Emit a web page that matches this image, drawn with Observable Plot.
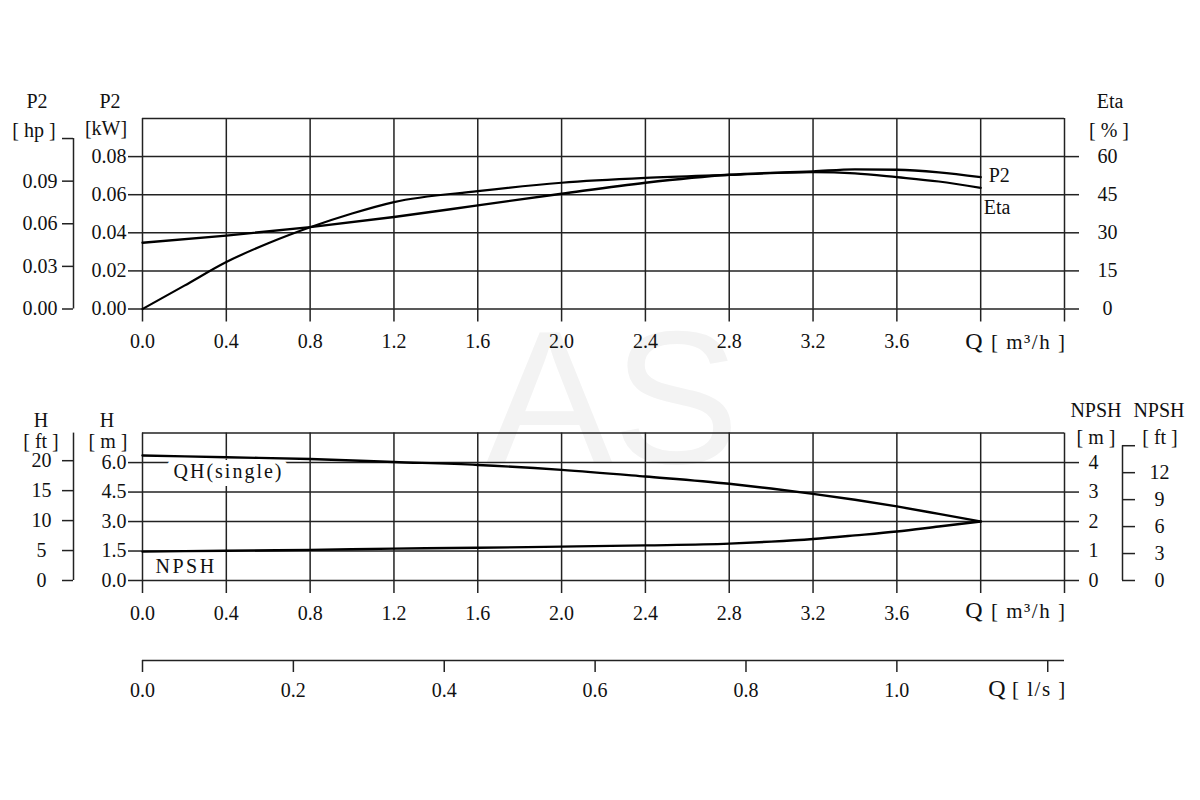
<!DOCTYPE html>
<html>
<head>
<meta charset="utf-8">
<script src="https://cdn.jsdelivr.net/npm/d3@7"></script>
<script src="https://cdn.jsdelivr.net/npm/@observablehq/plot@0.6"></script>
<style>
  html, body { margin: 0; padding: 0; background: #fff; overflow: hidden; }
  #chart { position: relative; width: 1200px; height: 800px; background: #fff; overflow: hidden;
           font-family: "Liberation Serif", "Times New Roman", serif; color: #111; }
  #chart svg { position: absolute; left: 0; top: 0; }
  .lbl { position: absolute; white-space: nowrap; line-height: 1; font-size: 20px; transform: translate(-50%, -50%); }
  .lbl.start { transform: translate(0, -50%); letter-spacing: 1.5px; }
  .wm { position: absolute; left: 486px; top: 302px; font-family: "Liberation Sans", Arial, sans-serif;
        font-size: 190px; line-height: 1; color: #f3f3f3; white-space: nowrap; }
</style>
</head>
<body>
<div id="chart"><div class="wm">AS</div></div>
<script>
// ---------- data ----------
// Flow Q [m3/h]
const qTicks  = [0, 0.4, 0.8, 1.2, 1.6, 2.0, 2.4, 2.8, 3.2, 3.6, 4.0, 4.4];
const qLabels = ["0.0","0.4","0.8","1.2","1.6","2.0","2.4","2.8","3.2","3.6","",""];

// P2 power [kW]
const qP2  = [0, 0.4, 0.8, 1.2, 1.6, 2.0, 2.4, 2.8, 3.2, 3.4, 3.6, 3.8, 4.0];
const p2kW = [0.0348, 0.0385, 0.0430, 0.0483, 0.0544, 0.0605, 0.0663, 0.0705, 0.0722, 0.0733, 0.0731, 0.0717, 0.0692];

// Efficiency [%]
const qEta = [0, 0.2, 0.4, 0.6, 0.8, 1.0, 1.2, 1.6, 2.0, 2.4, 2.8, 3.2, 3.4, 3.6, 3.8, 4.0];
const eta  = [0, 9.2, 18.5, 25.9, 32.2, 37.6, 42.1, 46.4, 49.7, 51.6, 52.8, 53.9, 53.4, 51.9, 50.2, 47.7];

// Head and NPSH [m]
const qH    = [0, 0.4, 0.8, 1.2, 1.6, 2.0, 2.4, 2.8, 3.0, 3.2, 3.4, 3.6, 3.8, 4.0];
const headM = [6.36, 6.27, 6.18, 6.03, 5.88, 5.63, 5.29, 4.92, 4.68, 4.41, 4.11, 3.77, 3.39, 3.0];
const npshM = [0.98, 1.01, 1.04, 1.08, 1.11, 1.15, 1.19, 1.25, 1.32, 1.41, 1.53, 1.66, 1.83, 2.0];

// axis ticks / labels
const kwTicks   = [0, 0.02, 0.04, 0.06, 0.08];
const kwLabels  = ["0.00","0.02","0.04","0.06","0.08"];
const hpTicks   = [0, 0.03, 0.06, 0.09, 0.12];
const hpLabels  = ["0.00","0.03","0.06","0.09",""];
const etaTicks  = [0, 15, 30, 45, 60];
const etaLabels = ["0","15","30","45","60"];
const hTicks    = [0, 1.5, 3.0, 4.5, 6.0];
const hLabels   = ["0.0","1.5","3.0","4.5","6.0"];
const ftTicks   = [0, 5, 10, 15, 20];
const ftLabels  = ["0","5","10","15","20"];
const npshTicks  = [0, 1, 2, 3, 4];
const npshLabels = ["0","1","2","3","4"];
const npshFtTicks  = [0, 3, 6, 9, 12, 15];
const npshFtLabels = ["0","3","6","9","12",""];
const lsTicks  = [0, 0.2, 0.4, 0.6, 0.8, 1.0, 1.2];
const lsLabels = ["0.0","0.2","0.4","0.6","0.8","1.0",""];

// unit conversions
const KW_TO_HP = 1.34102;
const M_TO_FT = 1 / 0.3048;
const M3H_TO_LS = 1 / 3.6;

// ---------- drawing ----------
const container = document.getElementById("chart");
const GRID = "#222";
const GW = 1.5;
const style = { fontFamily: '"Liberation Serif","Times New Roman",serif', fontSize: "20px",
  background: "transparent", overflow: "visible", color: "#111" };
function dims(top, bottom, left, right) {
  return { width: 1200, height: 800, marginTop: top, marginBottom: 800 - bottom,
           marginLeft: left, marginRight: 1200 - right };
}
const fmt = (ticks, labels) => d => labels[ticks.indexOf(d)] ?? "";
const add = p => container.appendChild(p);

const TOP = { t: 118, b: 308.5, l: 142, r: 1064 };
const BOT = { t: 432.6, b: 580, l: 142, r: 1064 };

const p2Data   = qP2.map((q, i) => ({ q, v: p2kW[i] }));
const etaData  = qEta.map((q, i) => ({ q, v: eta[i] }));
const headData = qH.map((q, i) => ({ q, v: headM[i] }));
const npshData = qH.map((q, i) => ({ q, v: npshM[i] }));

// frame with Q grid + primary y grid
function mainChart(F, yDomain, yTicks, yLabels, extra) {
  return Plot.plot({
    ...dims(F.t, F.b, F.l, F.r), style,
    x: { domain: [0, 4.4], range: [F.l, F.r], axis: null },
    y: { domain: yDomain, range: [F.b, F.t], axis: null },
    marks: [
      Plot.gridX(qTicks, { stroke: GRID, strokeOpacity: 1, strokeWidth: GW }),
      Plot.gridY(yTicks, { stroke: GRID, strokeOpacity: 1, strokeWidth: GW }),
      Plot.ruleY([yDomain[1]], { stroke: GRID, strokeWidth: GW }),
      Plot.axisX(qTicks, { anchor: "bottom", tickSize: 13, tickPadding: 12, stroke: GRID, strokeWidth: GW,
        tickFormat: fmt(qTicks, qLabels), label: null }),
      Plot.axisY(yTicks, { anchor: "left", tickSize: 14, tickPadding: 2, stroke: GRID, strokeWidth: GW,
        tickFormat: fmt(yTicks, yLabels), label: null }),
      Plot.axisY(yTicks, { anchor: "right", tickSize: 14, stroke: GRID, strokeWidth: GW,
        tickFormat: () => "", label: null }),
      ...extra
    ]
  });
}

// top: P2 kW
add(mainChart(TOP, [0, 0.1], kwTicks, kwLabels, [
  Plot.line(p2Data, { x: "q", y: "v", curve: "monotone-x", stroke: "#000", strokeWidth: 2.4 }),
  Plot.text([p2Data[p2Data.length - 1]], { x: "q", y: "v", text: () => "P2", dx: 8, dy: -2, textAnchor: "start" })
]));

// top: Eta overlay
add(Plot.plot({
  ...dims(TOP.t, TOP.b, TOP.l, TOP.r), style,
  x: { domain: [0, 4.4], range: [TOP.l, TOP.r], axis: null },
  y: { domain: [0, 75], range: [TOP.b, TOP.t], axis: null },
  marks: [
    Plot.line(etaData, { x: "q", y: "v", curve: "monotone-x", stroke: "#000", strokeWidth: 2.2 }),
    Plot.text([etaData[etaData.length - 1]], { x: "q", y: "v", text: () => "Eta", dx: 3, dy: 20, textAnchor: "start" }),
    Plot.text(etaTicks, { y: d => d, text: fmt(etaTicks, etaLabels), frameAnchor: "right", dx: 43, textAnchor: "middle" })
  ]
}));

// top: hp axis
add(Plot.plot({
  ...dims(TOP.t, TOP.b, 62, 73), style,
  x: { domain: [0, 1], range: [62, 73], axis: null },
  y: { domain: [0, 0.1 * KW_TO_HP], range: [TOP.b, TOP.t], axis: null },
  marks: [
    Plot.tickY(hpTicks, { y: d => d, stroke: GRID, strokeWidth: GW }),
    Plot.ruleX([1], { y1: 0, y2: hpTicks[hpTicks.length - 1], stroke: GRID, strokeWidth: GW }),
    Plot.text(hpTicks, { y: d => d, text: fmt(hpTicks, hpLabels), frameAnchor: "left", dx: -5, textAnchor: "end" })
  ]
}));

// bottom: H m (label halo drawn first as a white block, then the text, then the curve)
add(mainChart(BOT, [0, 7.5], hTicks, hLabels, [
  Plot.text([headData[0]], { x: "q", y: "v", text: () => "QH(single)", dx: 31, dy: 16, textAnchor: "start",
    stroke: "white", fill: "white", strokeWidth: 16, strokeLinejoin: "round" }),
  Plot.text([headData[0]], { x: "q", y: "v", text: () => "QH(single)", dx: 31, dy: 16, textAnchor: "start",
    fill: "#111" }),
  Plot.line(headData, { x: "q", y: "v", curve: "monotone-x", stroke: "#000", strokeWidth: 2.4 })
]));

// bottom: NPSH m overlay
add(Plot.plot({
  ...dims(BOT.t, BOT.b, BOT.l, BOT.r), style,
  x: { domain: [0, 4.4], range: [BOT.l, BOT.r], axis: null },
  y: { domain: [0, 5], range: [BOT.b, BOT.t], axis: null },
  marks: [
    Plot.line(npshData, { x: "q", y: "v", curve: "monotone-x", stroke: "#000", strokeWidth: 2.4 }),
    Plot.text([npshData[0]], { x: "q", y: "v", text: () => "NPSH", dx: 13, dy: 15, textAnchor: "start" }),
    Plot.text(npshTicks, { y: d => d, text: fmt(npshTicks, npshLabels), frameAnchor: "right", dx: 29, textAnchor: "middle" })
  ]
}));

// bottom: H ft axis
add(Plot.plot({
  ...dims(BOT.t, BOT.b, 62, 73), style,
  x: { domain: [0, 1], range: [62, 73], axis: null },
  y: { domain: [0, 7.5 * M_TO_FT], range: [BOT.b, BOT.t], axis: null },
  marks: [
    Plot.tickY(ftTicks, { y: d => d, stroke: GRID, strokeWidth: GW }),
    Plot.ruleX([1], { y1: 0, y2: 7.5 * M_TO_FT, stroke: GRID, strokeWidth: GW }),
    Plot.text(ftTicks, { y: d => d, text: fmt(ftTicks, ftLabels), frameAnchor: "left", dx: -21, textAnchor: "middle" })
  ]
}));

// bottom: NPSH ft axis
add(Plot.plot({
  ...dims(BOT.t, BOT.b, 1122, 1135), style,
  x: { domain: [0, 1], range: [1122, 1135], axis: null },
  y: { domain: [0, 5 * M_TO_FT], range: [BOT.b, BOT.t], axis: null },
  marks: [
    Plot.tickY(npshFtTicks, { y: d => d, stroke: GRID, strokeWidth: GW }),
    Plot.ruleX([0], { y1: 0, y2: npshFtTicks[npshFtTicks.length - 1], stroke: GRID, strokeWidth: GW }),
    Plot.text(npshFtTicks, { y: d => d, text: fmt(npshFtTicks, npshFtLabels), frameAnchor: "right", dx: 24, textAnchor: "middle" })
  ]
}));

// Q l/s axis
add(Plot.plot({
  ...dims(650, 660, 142, 1064), style,
  x: { domain: [0, 4.4 * M3H_TO_LS], range: [142, 1064], axis: null },
  y: { domain: [0, 1], range: [660, 650], axis: null },
  marks: [
    Plot.ruleY([0], { stroke: GRID, strokeWidth: GW }),
    Plot.axisX(lsTicks, { anchor: "bottom", tickSize: 12, tickPadding: 10, stroke: GRID, strokeWidth: GW,
      tickFormat: fmt(lsTicks, lsLabels), label: null })
  ]
}));

// wider spacing for the curve names, as in the reference
container.querySelectorAll("svg text").forEach(t => {
  const s = t.textContent;
  if (s === "QH(single)") t.style.letterSpacing = "2px";
  if (s === "NPSH") t.style.letterSpacing = "2.5px";
});

// ---------- titles ----------
function label(html, x, y, cls = "", size = 20) {
  const d = document.createElement("div");
  d.className = "lbl " + cls;
  d.style.left = x + "px"; d.style.top = y + "px"; d.style.fontSize = size + "px";
  d.innerHTML = html;
  container.appendChild(d);
}
label("P2", 37, 101); label("[ hp ]", 34, 130);
label("P2", 110, 101); label("[kW]", 106, 128);
label("Eta", 1110, 101); label("[ % ]", 1109, 130);
label("Q", 974, 341, "", 24); label("[ m³/h ]", 991, 342, "start", 21);

label("H", 41, 420); label("[ ft ]", 41, 441);
label("H", 107, 420); label("[ m ]", 108, 441);
label("NPSH", 1096, 410); label("[ m ]", 1096, 437);
label("NPSH", 1159, 410); label("[ ft ]", 1160, 437);
label("Q", 974, 610, "", 24); label("[ m³/h ]", 991, 611, "start", 21);

label("Q", 997, 688, "", 24); label("[ l/s ]", 1012, 689, "start", 21);
</script>
</body>
</html>
